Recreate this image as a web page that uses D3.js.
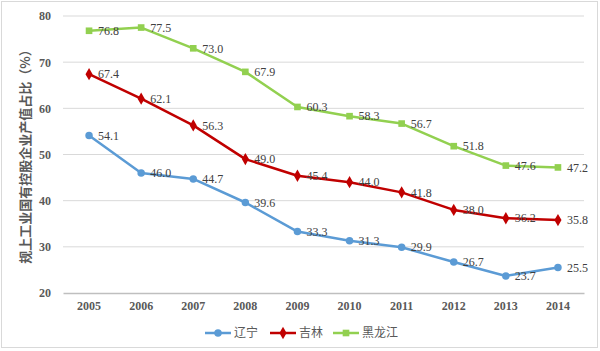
<!DOCTYPE html>
<html>
<head>
<meta charset="utf-8">
<script src="https://cdn.jsdelivr.net/npm/d3@7"></script>
<style>
  body { margin: 0; background: #fff; }
  svg { display: block; }
</style>
</head>
<body>
<svg id="chart" width="600" height="351"></svg>
<script>
var years = ['2005', '2006', '2007', '2008', '2009', '2010', '2011', '2012', '2013', '2014'];
var liaoning = [54.1, 46.0, 44.7, 39.6, 33.3, 31.3, 29.9, 26.7, 23.7, 25.5];
var jilin = [67.4, 62.1, 56.3, 49.0, 45.4, 44.0, 41.8, 38.0, 36.2, 35.8];
var heilongjiang = [76.8, 77.5, 73.0, 67.9, 60.3, 58.3, 56.7, 51.8, 47.6, 47.2];
var yTicks = [20, 30, 40, 50, 60, 70, 80];
var yTitle = '规上工业国有控股企业产值占比（%）';

var series = [
    {name: '辽宁', values: liaoning, color: '#5b9bd5', marker: d3.symbolCircle, size: 44},
    {name: '吉林', values: jilin, color: '#c00000', marker: d3.symbolDiamond, size: 44},
    {name: '黑龙江', values: heilongjiang, color: '#92d050', marker: d3.symbolSquare, size: 44}
];

var svg = d3.select('#chart');
var margin = {left: 63, right: 16, top: 16, bottom: 58};
var width = 600 - margin.left - margin.right;
var height = 351 - margin.top - margin.bottom;

// outer border
svg.append('rect')
    .attr('x', 1.5).attr('y', 1.5)
    .attr('width', 596).attr('height', 346)
    .attr('fill', 'none')
    .attr('stroke', '#d9d9d9');

var g = svg.append('g').attr('transform', 'translate(' + margin.left + ',' + margin.top + ')');

var x = d3.scaleBand().domain(years).range([0, width]);
var y = d3.scaleLinear().domain([20, 80]).range([height, 0]);

// gridlines
g.append('g')
    .selectAll('line')
    .data(yTicks.slice(1))
    .enter().append('line')
    .attr('x1', 0).attr('x2', width)
    .attr('y1', function(d) { return y(d); })
    .attr('y2', function(d) { return y(d); })
    .attr('stroke', '#d9d9d9')
    .attr('stroke-width', 1);

// x axis
var xAxis = g.append('g')
    .attr('transform', 'translate(0,' + height + ')')
    .call(d3.axisBottom(x).tickSize(0).tickPadding(8));
xAxis.select('.domain').attr('stroke', '#bfbfbf').attr('stroke-width', 1.5);
xAxis.selectAll('text')
    .attr('font-family', 'Liberation Serif, serif')
    .attr('font-size', 12)
    .attr('font-weight', 'bold')
    .attr('fill', '#595959');

// y axis
var yAxis = g.append('g')
    .call(d3.axisLeft(y).tickValues(yTicks).tickSize(0).tickPadding(12));
yAxis.select('.domain').remove();
yAxis.selectAll('text')
    .attr('font-family', 'Liberation Serif, serif')
    .attr('font-size', 12)
    .attr('font-weight', 'bold')
    .attr('fill', '#595959');

// y title
svg.append('text')
    .attr('transform', 'translate(30,' + (margin.top + height / 2 - 1) + ') rotate(-90)')
    .attr('text-anchor', 'middle')
    .attr('font-family', 'Noto Sans CJK SC, sans-serif')
    .attr('font-size', 13)
    .attr('font-weight', 'bold')
    .attr('fill', '#595959')
    .text(yTitle);

var line = d3.line()
    .x(function(d, i) { return x(years[i]) + x.bandwidth() / 2; })
    .y(function(d) { return y(d); });

series.forEach(function(s) {
    var sg = g.append('g');
    sg.append('path')
        .datum(s.values)
        .attr('d', line)
        .attr('fill', 'none')
        .attr('stroke', s.color)
        .attr('stroke-width', 2.5)
        .attr('stroke-linejoin', 'round');
    sg.selectAll('.pt')
        .data(s.values)
        .enter().append('path')
        .attr('class', 'pt')
        .attr('d', d3.symbol().type(s.marker).size(s.size))
        .attr('transform', function(d, i) {
            return 'translate(' + (x(years[i]) + x.bandwidth() / 2) + ',' + y(d) + ')';
        })
        .attr('fill', s.color);
    sg.selectAll('.lbl')
        .data(s.values)
        .enter().append('text')
        .attr('class', 'lbl')
        .attr('x', function(d, i) { return x(years[i]) + x.bandwidth() / 2 + 9; })
        .attr('y', function(d) { return y(d); })
        .attr('dy', '0.35em')
        .attr('font-family', 'Liberation Serif, serif')
        .attr('font-size', 12)
        .attr('fill', '#404040')
        .text(function(d) { return d.toFixed(1); });
});

// legend
var legendX = [205, 270, 333];
var legend = svg.append('g').attr('transform', 'translate(0,333)');
series.forEach(function(s, i) {
    var lg = legend.append('g').attr('transform', 'translate(' + legendX[i] + ',0)');
    lg.append('line')
        .attr('x1', 0).attr('x2', 26)
        .attr('stroke', s.color)
        .attr('stroke-width', 2.5);
    lg.append('path')
        .attr('d', d3.symbol().type(s.marker).size(s.size))
        .attr('transform', 'translate(13,0)')
        .attr('fill', s.color);
    lg.append('text')
        .attr('x', 29)
        .attr('dy', '0.35em')
        .attr('font-family', 'Noto Sans CJK SC, sans-serif')
        .attr('font-size', 12)
        .attr('fill', '#595959')
        .text(s.name);
});
</script>
</body>
</html>
